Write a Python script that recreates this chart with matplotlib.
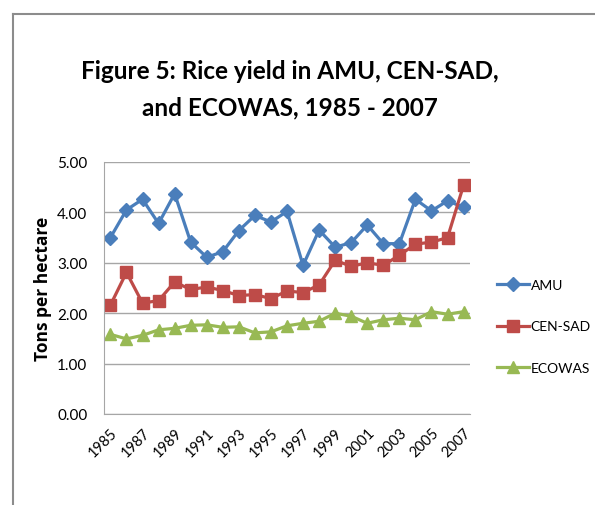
import matplotlib
matplotlib.use("Agg")
import matplotlib.pyplot as plt
from matplotlib.lines import Line2D

years = list(range(1985, 2008))
amu = [3.50, 4.05, 4.26, 3.78, 4.37, 3.41, 3.11, 3.22, 3.64, 3.94, 3.81, 4.02, 2.95,
       3.65, 3.31, 3.40, 3.75, 3.38, 3.38, 4.26, 4.03, 4.23, 4.10]
censad = [2.16, 2.81, 2.20, 2.25, 2.62, 2.47, 2.52, 2.45, 2.35, 2.37, 2.29, 2.44, 2.41,
          2.56, 3.05, 2.93, 3.00, 2.95, 3.15, 3.37, 3.41, 3.50, 4.54]
ecowas = [1.58, 1.49, 1.56, 1.67, 1.70, 1.76, 1.77, 1.72, 1.73, 1.61, 1.63, 1.75, 1.80,
          1.84, 2.00, 1.94, 1.80, 1.87, 1.90, 1.87, 2.03, 1.98, 2.03]
tick_years = list(range(1985, 2008, 2))
yticks = [0, 1, 2, 3, 4, 5]

fam = ['Lato', 'DejaVu Sans']
plt.rcParams['font.family'] = fam

fig = plt.figure(figsize=(5.95, 5.06), dpi=100)
ax = fig.add_axes([104/595, 1-415/506, (470-104)/595, (415-163)/506])

ax.plot(years, amu, color='#4a7ebb', lw=2.3, marker='D', ms=7, label='AMU')
ax.plot(years, censad, color='#be4b48', lw=2.3, marker='s', ms=8, label='CEN-SAD')
ax.plot(years, ecowas, color='#98b954', lw=2.3, marker='^', ms=9, label='ECOWAS')

ax.set_ylim(0, 5)
ax.set_xlim(1984.6, 2007.4)
ax.set_yticks(yticks)
ax.set_yticklabels([f"{v:.2f}" for v in yticks], fontsize=11)
ax.set_xticks(tick_years)
ax.set_xticklabels([str(y) for y in tick_years], rotation=45, ha='right',
                   rotation_mode='anchor', fontsize=10.5)
ax.tick_params(length=0, pad=12)
ax.tick_params(axis='x', pad=8)
ax.grid(axis='y', color='#a6a6a6', lw=1)
ax.set_axisbelow(True)
for s in ['top', 'right']:
    ax.spines[s].set_visible(False)
ax.spines['left'].set_color('#a6a6a6')
ax.spines['bottom'].set_color('#a6a6a6')

ax.set_ylabel('Tons per hectare', fontsize=12.5, fontweight='bold',
              family=['Open Sans', 'DejaVu Sans'], labelpad=4)

fig.text(0.487, 1-90/506, 'Figure 5: Rice yield in AMU, CEN-SAD,\nand ECOWAS, 1985 - 2007',
         ha='center', va='center', fontsize=17.5, fontweight='bold',
         family=['Lato', 'DejaVu Sans'], linespacing=1.7)

leg = fig.legend(loc='upper left', bbox_to_anchor=(491/595, 1-274/506), frameon=False,
                 fontsize=10, labelspacing=2.15, handlelength=2.3, handletextpad=0.15,
                 borderaxespad=0)

# figure border lines
fig.add_artist(Line2D([13/595, 13/595], [0, 1-15/506], color='#8c8c8c', lw=1.5,
                      transform=fig.transFigure))
fig.add_artist(Line2D([13/595, 1], [1-15/506, 1-15/506], color='#8c8c8c', lw=1.5,
                      transform=fig.transFigure))

fig.savefig('out.png', dpi=100)
